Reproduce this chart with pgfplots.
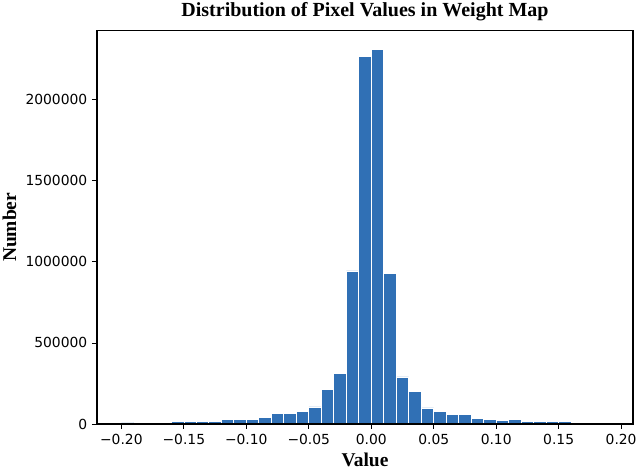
\documentclass[border=0pt]{standalone}
\usepackage{fontspec}
\setmainfont{Liberation Serif}
\newfontfamily\dejavu{DejaVu Sans}
\usepackage{pgfplots}
\pgfplotsset{compat=1.18}
\definecolor{barblue}{RGB}{48,112,181}

\pgfplotstableread{
x y
-0.20 7000
-0.19 8000
-0.18 8000
-0.17 9000
-0.16 16000
-0.15 16000
-0.14 16000
-0.13 16000
-0.12 29000
-0.11 29000
-0.10 29000
-0.09 41000
-0.08 66000
-0.07 66000
-0.06 80000
-0.05 105000
-0.04 212000
-0.03 311000
-0.02 944000
-0.01 2267000
0.00 2311000
0.01 930000
0.02 290000
0.03 200000
0.04 99000
0.05 80000
0.06 60000
0.07 60000
0.08 35000
0.09 29000
0.10 23000
0.11 29000
0.12 16000
0.13 16000
0.14 16000
0.15 16000
0.16 10000
0.17 10000
0.18 8000
0.19 8000
}\histdata

\begin{document}
\begin{tikzpicture}
\begin{axis}[
    scale only axis,
    width=402pt, height=295pt,
    xmin=-0.2195, xmax=0.2095,
    ymin=0, ymax=2425500,
    scaled y ticks=false,
    axis on top,
    axis line style={line width=0.8pt},
    tick pos=left,
    tick align=outside,
    major tick length=3.75pt,
    every tick/.style={black, line width=0.6pt},
    xtick={-0.2,-0.15,-0.1,-0.05,0,0.05,0.1,0.15,0.2},
    xticklabels={−0.20,−0.15,−0.10,−0.05,0.00,0.05,0.10,0.15,0.20},
    ytick={0,500000,1000000,1500000,2000000},
    yticklabels={0,500000,1000000,1500000,2000000},
    ticklabel style={font=\dejavu\fontsize{10.4}{12}\selectfont},
    title={Distribution of Pixel Values in Weight Map},
    title style={font=\bfseries\fontsize{15}{17}\selectfont, yshift=-2pt},
    xlabel={Value},
    ylabel={Number},
    label style={font=\bfseries\fontsize{14.6}{16}\selectfont},
]
\addplot[ybar interval, fill=barblue, draw=white, line width=0.5pt] table[x=x, y=y] {\histdata};
\end{axis}
\pgfresetboundingbox
\path (current axis.south west) ++(-72.75pt,-34.5pt) rectangle ++(478.5pt,352.5pt);
\end{tikzpicture}
\end{document}
